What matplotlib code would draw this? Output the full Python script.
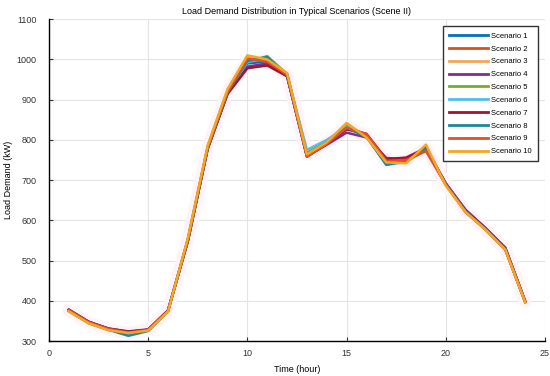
import matplotlib
matplotlib.use("Agg")
import matplotlib.pyplot as plt

plt.rcParams['font.family'] = ['Liberation Sans', 'DejaVu Sans']

hours = list(range(1, 25))
s1 = [378, 348, 330, 318, 327, 376, 548, 778, 915, 990, 995, 958, 758, 790, 832, 812, 742, 748, 780, 690, 625, 580, 530, 397]
s2 = [376, 346, 329, 322, 328, 375, 552, 782, 920, 1000, 1000, 962, 762, 792, 836, 810, 748, 752, 778, 692, 622, 578, 528, 398]
s3 = [374, 344, 327, 320, 326, 374, 555, 785, 925, 1008, 998, 965, 765, 795, 840, 808, 745, 745, 785, 688, 620, 577, 527, 397]
s4 = [377, 347, 331, 324, 329, 376, 550, 780, 918, 982, 990, 960, 760, 788, 818, 806, 755, 752, 778, 692, 626, 581, 532, 399]
s5 = [375, 345, 328, 319, 326, 375, 549, 779, 917, 995, 1008, 964, 768, 796, 835, 810, 740, 748, 780, 690, 620, 578, 528, 397]
s6 = [376, 346, 329, 317, 327, 375, 551, 781, 919, 993, 1004, 962, 775, 800, 832, 808, 738, 745, 775, 690, 623, 579, 529, 397]
s7 = [378, 348, 331, 323, 328, 376, 549, 778, 914, 978, 985, 958, 760, 790, 826, 815, 752, 756, 780, 690, 624, 580, 530, 398]
s8 = [375, 345, 328, 313, 325, 374, 550, 780, 918, 996, 1006, 960, 762, 794, 830, 808, 738, 748, 778, 690, 622, 578, 528, 397]
s9 = [377, 347, 330, 321, 328, 375, 551, 781, 920, 1002, 994, 962, 758, 790, 830, 815, 748, 750, 772, 688, 621, 577, 527, 397]
s10 = [374, 344, 327, 320, 326, 373, 556, 786, 926, 1010, 1000, 966, 764, 794, 842, 806, 744, 742, 788, 686, 620, 577, 527, 396]

series = [s1, s2, s3, s4, s5, s6, s7, s8, s9, s10]
labels = [f"Scenario {i}" for i in range(1, 11)]
colors = ['#0072BD', '#D95319', '#F2A65A', '#7E2F8E', '#77AC30',
          '#4DBEEE', '#A2142F', '#1A8A9A', '#E0502A', '#F5A623']

fig = plt.figure(figsize=(5.5, 3.76), dpi=100)
ax = fig.add_axes([0.089, 0.093, 0.902, 0.856])

# faint halo under the curves
mean = [sum(v) / len(v) for v in zip(*series)]
ax.plot(hours, mean, color='#fff3fa', lw=9, solid_capstyle='round', zorder=1)

for s, lab, c in zip(series, labels, colors):
    ax.plot(hours, s, color=c, lw=1.8, label=lab, zorder=3)

ax.set_xlim(0, 25)
ax.set_ylim(300, 1100)
ax.set_xticks(range(0, 26, 5))
ax.set_yticks(range(300, 1101, 100))
ax.grid(True, color='#e4e4e4', lw=0.8)
ax.set_axisbelow(True)
for sp in ['top', 'right']:
    ax.spines[sp].set_visible(False)
for sp in ['left', 'bottom']:
    ax.spines[sp].set_linewidth(1.0)
ax.tick_params(direction='in', labelsize=6.5, length=3, colors='#333333')
ax.tick_params(axis='y', pad=9)
ax.tick_params(axis='x', pad=6)
ax.set_xlabel('Time (hour)', fontsize=6.5, labelpad=5)
ax.set_ylabel('Load Demand (kW)', fontsize=6.5)
ax.yaxis.set_label_coords(-0.073, 0.5)
ax.set_title('Load Demand Distribution in Typical Scenarios (Scene II)', fontsize=6.5, pad=4)

leg = ax.legend(loc='upper right', bbox_to_anchor=(0.986, 0.978), fontsize=5.5,
                frameon=True, fancybox=False, edgecolor='#333333', framealpha=1,
                handlelength=5.0, labelspacing=0.72, borderpad=0.8, handletextpad=0.5,
                borderaxespad=0.0)
leg.get_frame().set_linewidth(1.0)
for l in leg.get_lines():
    l.set_linewidth(2.0)

fig.savefig('out.png', dpi=100)
